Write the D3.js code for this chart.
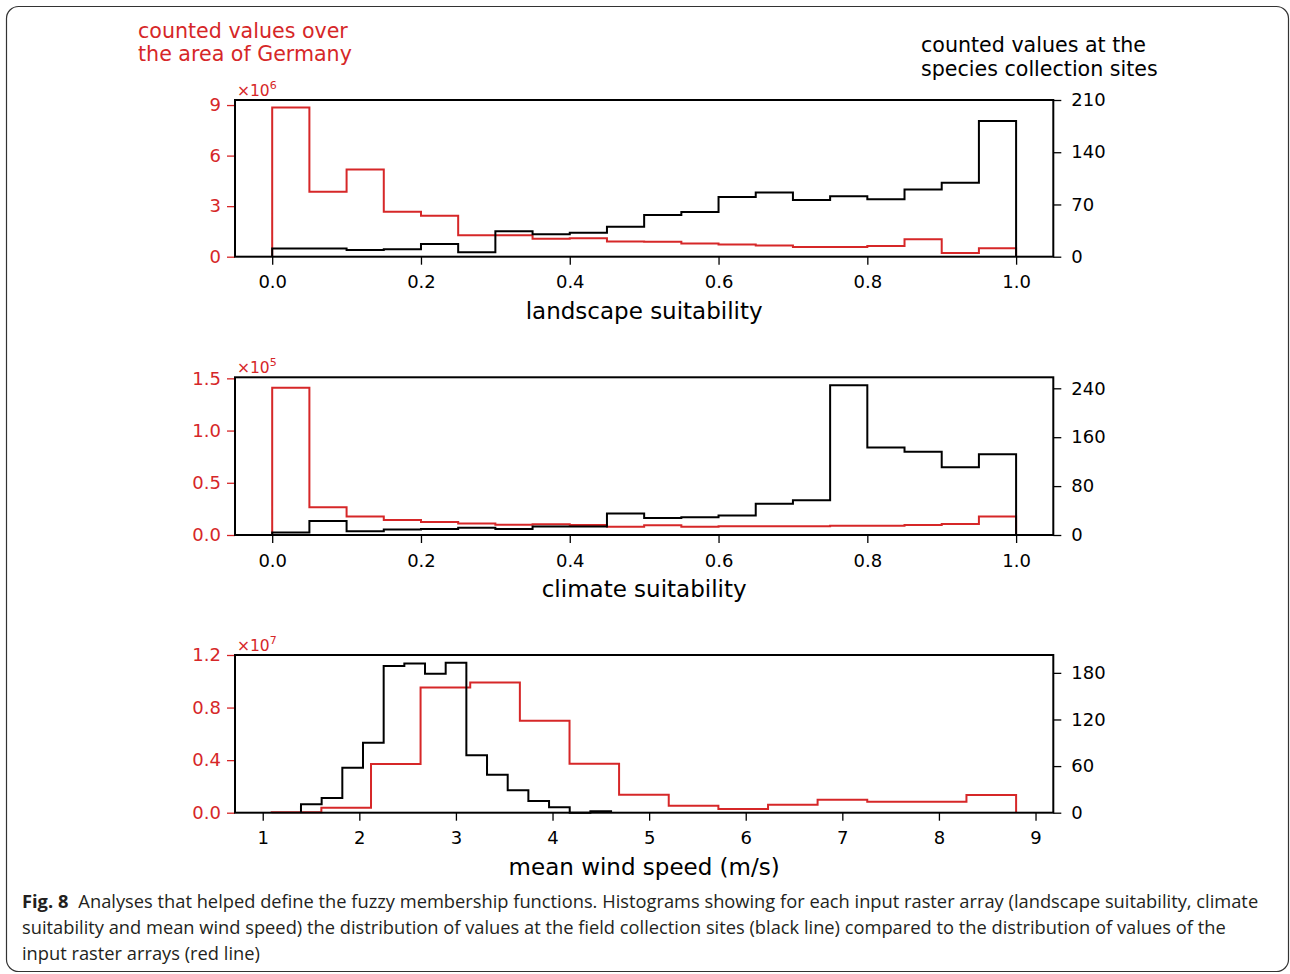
<!DOCTYPE html>
<html>
<head>
<meta charset="utf-8">
<script src="https://cdn.jsdelivr.net/npm/d3@7"></script>
<style>
  body { margin: 0; background: #fff; }
  svg text { font-family: "DejaVu Sans", sans-serif; }
  .caption { font-family: "Open Sans", sans-serif; fill: #231f20; }
</style>
</head>
<body>
<script>

// bin edges
var suitEdges = [0, 0.05, 0.1, 0.15, 0.2, 0.25, 0.3, 0.35, 0.4, 0.45, 0.5,
                 0.55, 0.6, 0.65, 0.7, 0.75, 0.8, 0.85, 0.9, 0.95, 1.0];
var windRedEdges = [1.093, 1.607, 2.121, 2.634, 3.148, 3.662, 4.176, 4.689,
                    5.203, 5.717, 6.231, 6.744, 7.258, 7.772, 8.285, 8.799];
var windBlackEdges = [1.396, 1.610, 1.824, 2.038, 2.252, 2.466, 2.680, 2.894,
                      3.108, 3.322, 3.536, 3.750, 3.964, 4.178, 4.392, 4.606];

// landscape suitability (red in 1e6)
var landRed = [8.86, 3.86, 5.18, 2.67, 2.43, 1.27, 1.27, 1.07, 1.10, 0.90,
               0.89, 0.79, 0.73, 0.67, 0.57, 0.57, 0.63, 1.03, 0.22, 0.50];
var landBlack = [11, 11, 9, 10, 17, 6, 34, 30, 32, 40,
                 56, 60, 80, 86, 76, 81, 77, 90, 99, 182];

// climate suitability (red in 1e5)
var climRed = [1.41, 0.265, 0.176, 0.144, 0.125, 0.109, 0.099, 0.102, 0.096, 0.080,
               0.093, 0.080, 0.083, 0.083, 0.083, 0.089, 0.089, 0.096, 0.105, 0.176];
var climBlack = [4, 23, 6, 9, 10, 12, 10, 14, 14, 35,
                 28, 29, 32, 51, 57, 245, 143, 136, 111, 132];

// mean wind speed (red in 1e7)
var windRed = [0.004, 0.038, 0.371, 0.953, 0.991, 0.699, 0.373, 0.137,
               0.053, 0.028, 0.061, 0.099, 0.084, 0.084, 0.135];
var windBlack = [11, 19, 58, 90, 189, 192, 179, 193, 74, 49, 29, 15, 7, 0, 2];

var suitTicks = [0, 0.2, 0.4, 0.6, 0.8, 1.0];
var windTicks = [1, 2, 3, 4, 5, 6, 7, 8, 9];

var captionLines = [
  "Analyses that helped define the fuzzy membership functions. Histograms showing for each input raster array (landscape suitability, climate",
  "suitability and mean wind speed) the distribution of values at the field collection sites (black line) compared to the distribution of values of the",
  "input raster arrays (red line)"
];

var RED = "#d62728";
var W = 1290, H = 974;
var left = 235, right = 1053.3;

var panels = [
  {top: 100, bottom: 256.7, xDomain: [-0.05, 1.05], xTicks: suitTicks, xFmt: d3.format(".1f"),
   label: "landscape suitability", lDomain: [0, 9.3], lTicks: [0, 3, 6, 9], lFmt: d3.format("d"), exp: "6",
   rDomain: [0, 210], rTicks: [0, 70, 140, 210],
   redEdges: suitEdges, red: landRed, blackEdges: suitEdges, black: landBlack},
  {top: 377.3, bottom: 535, xDomain: [-0.05, 1.05], xTicks: suitTicks, xFmt: d3.format(".1f"),
   label: "climate suitability", lDomain: [0, 1.51], lTicks: [0, 0.5, 1.0, 1.5], lFmt: d3.format(".1f"), exp: "5",
   rDomain: [0, 258], rTicks: [0, 80, 160, 240],
   redEdges: suitEdges, red: climRed, blackEdges: suitEdges, black: climBlack},
  {top: 655, bottom: 812.7, xDomain: [0.713, 9.184], xTicks: windTicks, xFmt: d3.format("d"),
   label: "mean wind speed (m/s)", lDomain: [0, 1.2], lTicks: [0, 0.4, 0.8, 1.2], lFmt: d3.format(".1f"), exp: "7",
   rDomain: [0, 203], rTicks: [0, 60, 120, 180],
   redEdges: windRedEdges, red: windRed, blackEdges: windBlackEdges, black: windBlack}
];

var svg = d3.select("body").append("svg")
    .attr("width", W)
    .attr("height", H);

// figure frame
svg.append("rect")
    .attr("x", 6.5).attr("y", 6.5)
    .attr("width", 1282).attr("height", 965)
    .attr("rx", 12).attr("ry", 12)
    .attr("fill", "none")
    .attr("stroke", "#333")
    .attr("stroke-width", 1.2);

function stepPoints(edges, vals) {
  var pts = [[edges[0], 0]];
  vals.forEach(function(v, i) { pts.push([edges[i], v]); });
  pts.push([edges[edges.length - 1], 0]);
  return pts;
}

panels.forEach(function(p) {
  var x = d3.scaleLinear().domain(p.xDomain).range([left, right]);
  var yL = d3.scaleLinear().domain(p.lDomain).range([p.bottom, p.top]);
  var yR = d3.scaleLinear().domain(p.rDomain).range([p.bottom, p.top]);

  var g = svg.append("g");

  var lineRed = d3.line()
      .x(function(d) { return x(d[0]); })
      .y(function(d) { return yL(d[1]); })
      .curve(d3.curveStepAfter);
  var lineBlack = d3.line()
      .x(function(d) { return x(d[0]); })
      .y(function(d) { return yR(d[1]); })
      .curve(d3.curveStepAfter);

  g.append("path")
      .datum(stepPoints(p.redEdges, p.red))
      .attr("fill", "none")
      .attr("stroke", RED)
      .attr("stroke-width", 2)
      .attr("d", lineRed);

  g.append("path")
      .datum(stepPoints(p.blackEdges, p.black))
      .attr("fill", "none")
      .attr("stroke", "#000")
      .attr("stroke-width", 2)
      .attr("d", lineBlack);

  // bottom axis
  var xa = g.append("g")
      .attr("transform", "translate(0," + p.bottom + ")")
      .call(d3.axisBottom(x).tickValues(p.xTicks).tickFormat(p.xFmt).tickSize(8).tickPadding(11));
  xa.select(".domain").remove();
  xa.selectAll(".tick line").attr("stroke", "#000").attr("stroke-width", 1.3);
  xa.selectAll(".tick text").attr("font-size", 18).attr("font-family", "DejaVu Sans").attr("fill", "#000");

  // left axis (red)
  var la = g.append("g")
      .attr("transform", "translate(" + left + ",0)")
      .call(d3.axisLeft(yL).tickValues(p.lTicks).tickFormat(p.lFmt).tickSize(8).tickPadding(6));
  la.select(".domain").remove();
  la.selectAll(".tick line").attr("stroke", RED).attr("stroke-width", 1.3);
  la.selectAll(".tick text").attr("font-size", 18).attr("font-family", "DejaVu Sans").attr("fill", RED);

  // right axis
  var ra = g.append("g")
      .attr("transform", "translate(" + right + ",0)")
      .call(d3.axisRight(yR).tickValues(p.rTicks).tickSize(8).tickPadding(10));
  ra.select(".domain").remove();
  ra.selectAll(".tick line").attr("stroke", "#000").attr("stroke-width", 1.3);
  ra.selectAll(".tick text").attr("font-size", 18).attr("font-family", "DejaVu Sans").attr("fill", "#000");

  // frame
  g.append("rect")
      .attr("x", left).attr("y", p.top)
      .attr("width", right - left).attr("height", p.bottom - p.top)
      .attr("fill", "none")
      .attr("stroke", "#000")
      .attr("stroke-width", 2);

  // multiplier
  var m = g.append("text")
      .attr("x", 237).attr("y", p.top - 4)
      .attr("fill", RED)
      .attr("font-size", 15.5);
  m.append("tspan").text("\u00d710");
  m.append("tspan").attr("dy", -7.5).attr("font-size", 11).text(p.exp);

  // x label
  g.append("text")
      .attr("x", (left + right) / 2)
      .attr("y", p.bottom + 62)
      .attr("text-anchor", "middle")
      .attr("font-size", 23)
      .text(p.label);
});

// header texts
var t1 = svg.append("text").attr("fill", RED).attr("font-size", 20.6);
t1.append("tspan").attr("x", 138).attr("y", 37.7).text("counted values over");
t1.append("tspan").attr("x", 138).attr("y", 61).text("the area of Germany");

var t2 = svg.append("text").attr("fill", "#000").attr("font-size", 20.6);
t2.append("tspan").attr("x", 921).attr("y", 52.3).text("counted values at the");
t2.append("tspan").attr("x", 921).attr("y", 75.5).text("species collection sites");

// caption
var cap = svg.append("text").attr("class", "caption").attr("font-size", 18.3);
captionLines.forEach(function(line, i) {
  var tl = cap.append("tspan").attr("x", 22).attr("y", 908 + i * 26);
  if (i === 0) {
    tl.append("tspan").attr("font-weight", "bold").text("Fig. 8");
    tl.append("tspan").attr("dx", 10).text(line);
  } else {
    tl.text(line);
  }
});

</script>
</body>
</html>
